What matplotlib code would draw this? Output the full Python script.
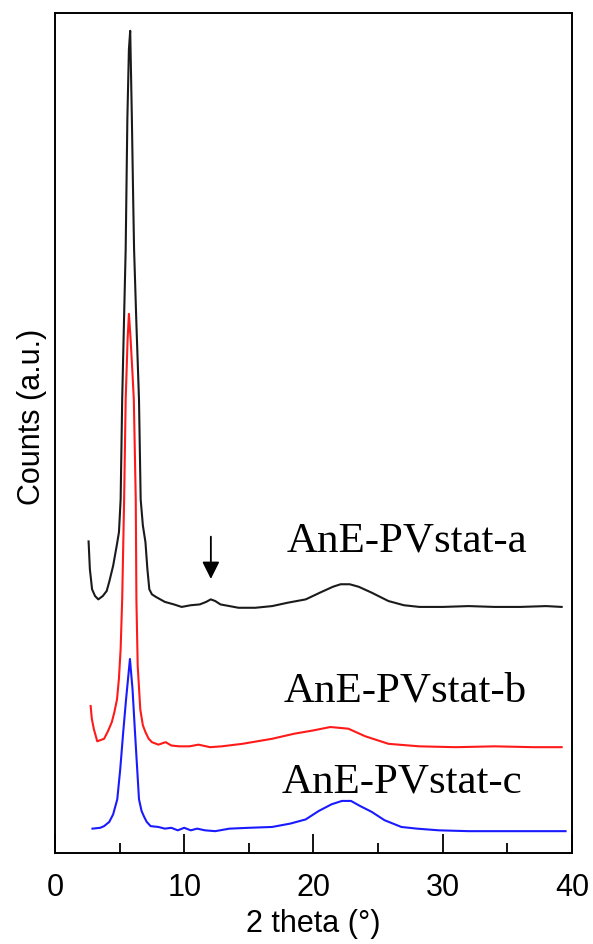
import matplotlib
matplotlib.use("Agg")
import matplotlib.pyplot as plt
from matplotlib.ticker import MultipleLocator

# 2 theta (deg) and counts (arbitrary units, 0-1000 axis)
x_a = [2.6, 2.7, 2.87, 3.1, 3.35, 3.7, 4.0, 4.2, 4.5, 4.8, 4.95, 5.08, 5.2, 5.35, 5.47,
       5.6, 5.72, 5.82, 5.95, 6.05, 6.12, 6.3, 6.5, 6.63, 6.8, 7.0, 7.15, 7.3, 7.5,
       7.8, 8.5, 9.2, 9.8, 10.5, 11.2, 11.7, 12.05, 12.4, 12.8, 13.5, 14.2,
       15.5, 16.8, 18.0, 19.4, 20.5, 21.5, 22.1, 22.8, 23.5, 24.5, 25.8, 27.0, 28.2,
       30, 32, 34, 36, 38, 39.2]
y_a = [371, 338, 314, 306, 302, 306, 312, 323, 342, 368, 382, 421, 540, 640, 719,
       874, 957, 979, 874, 779, 719, 630, 540, 421, 390, 370, 338, 314, 308,
       305, 299, 296, 293, 295, 296, 299, 302, 300, 296, 294, 292,
       292, 294, 298, 302, 310, 317, 320, 320, 317, 310, 300, 295, 293,
       293, 294, 293, 293, 294, 293]

x_b = [2.76, 2.85, 3.0, 3.27, 3.8, 4.1, 4.4, 4.6, 4.8, 4.95, 5.08, 5.2, 5.35, 5.47,
       5.62, 5.72, 5.85, 6.0, 6.1, 6.25, 6.3, 6.4, 6.6, 6.8, 7.0, 7.25, 7.5, 8.0,
       8.56, 9.0, 9.6, 10.4, 11.1, 12.0, 12.9, 14.5, 16.8,
       18.5, 20.0, 21.3, 22.7, 24.0, 25.8, 28.2, 31, 34, 37, 39.2]
y_b = [175, 160, 148, 133, 136, 145, 156, 168, 183, 208, 243, 302, 421, 540,
       612, 642, 612, 570, 540, 421, 302, 223, 171, 152, 144, 136, 132, 129,
       132, 128, 127, 127, 129, 126, 127, 130, 136,
       142, 146, 150, 148, 139, 130, 127, 126, 127, 126, 126]

x_c = [2.9, 3.5, 3.8, 4.2, 4.5, 4.82, 5.05, 5.28, 5.5, 5.8, 6.0, 6.19, 6.5, 6.7, 6.9,
       7.1, 7.4, 8.0, 8.5, 9.0, 9.5, 10.0, 10.5, 11.0, 11.6, 12.4, 13.5, 15.0, 16.8,
       18.2, 19.4, 20.4, 21.4, 22.2, 22.9, 23.6, 24.5, 25.5, 26.8, 28, 29.7, 32,
       35, 37.5, 39.5]
y_c = [29, 30, 32, 37, 46, 64, 100, 144, 183, 231, 195, 144, 64, 50, 43,
       37, 32, 31, 29, 30, 27, 30, 27, 29, 27, 26, 29, 30, 31,
       35, 40, 50, 58, 62, 62, 56, 49, 39, 31, 29, 27, 26,
       26, 26, 26]

names = ["AnE-PVstat-a", "AnE-PVstat-b", "AnE-PVstat-c"]
name_x = [17.94, 17.7, 17.55]
name_y = [360, 181, 73]

fig = plt.figure(figsize=(5.93, 9.45), dpi=100)
ax = fig.add_axes([0.0927, 0.0963, 0.8719, 0.8887])

ax.plot(x_c, y_c, color="#1a1aff", lw=1.5)
ax.plot(x_b, y_b, color="#ff1a1a", lw=1.5)
ax.plot(x_a, y_a, color="#1a1a1a", lw=1.5)

for n, tx, ty in zip(names, name_x, name_y):
    ax.text(tx, ty, n, fontsize=31, family="Liberation Serif", ha="left", va="baseline")

# arrow marking the small reflection near 12 deg
ax.annotate("", xy=(12.06, 323), xytext=(12.06, 380),
            arrowprops=dict(arrowstyle="-|>", color="black", lw=1.3, mutation_scale=26))

ax.set_xlim(0, 40)
ax.set_ylim(0, 1000)
ax.xaxis.set_major_locator(MultipleLocator(10))
ax.xaxis.set_minor_locator(MultipleLocator(5))
ax.tick_params(axis="x", which="major", direction="in", length=14, width=1.3, pad=14,
               labelsize=22)
ax.tick_params(axis="x", which="minor", direction="in", length=7, width=1.3)
ax.set_yticks([])
for lab in ax.get_xticklabels():
    lab.set_family("Liberation Sans")
for s in ax.spines.values():
    s.set_linewidth(1.4)

ax.set_xlabel("2 theta (°)", fontsize=22, family="Liberation Sans", labelpad=4)
ax.set_ylabel("Counts (a.u.)", fontsize=22, family="Liberation Sans", va="center")
ax.yaxis.set_label_coords(-0.045, 0.52)

fig.savefig("out.png", dpi=100)
